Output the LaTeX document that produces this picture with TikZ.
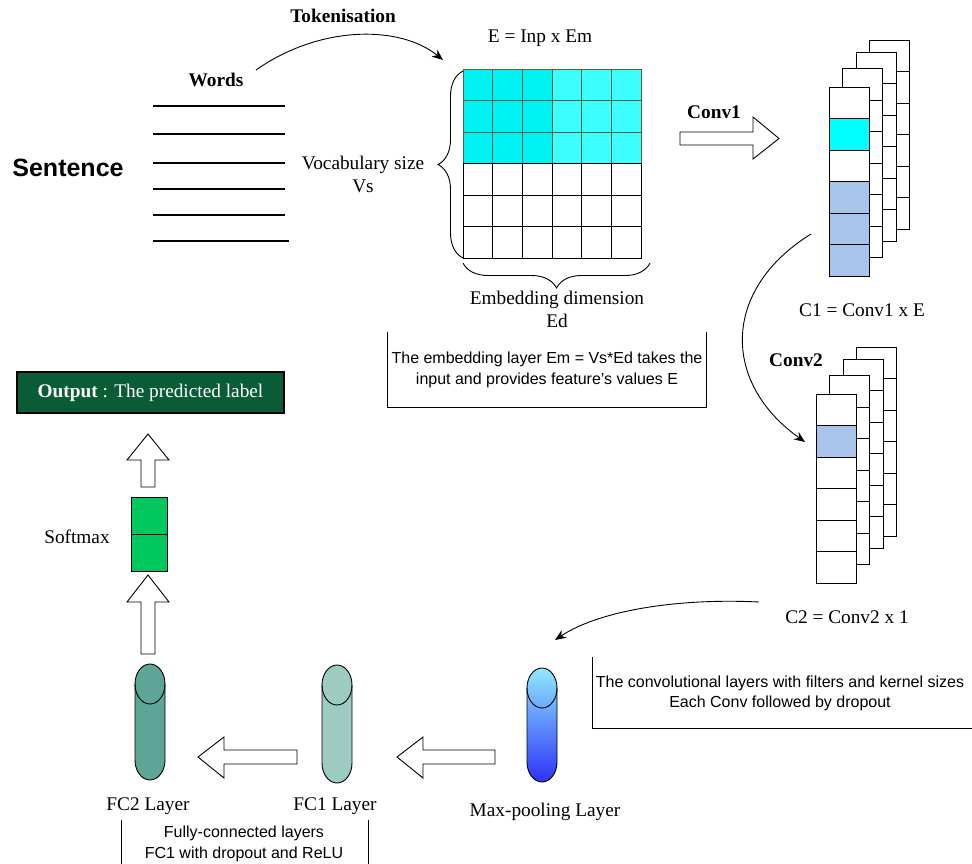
\documentclass[tikz,border=0pt]{standalone}
\usepackage{fontspec}
\setmainfont{Liberation Serif}
\setsansfont{Liberation Sans}
\usetikzlibrary{decorations.pathreplacing,arrows.meta}
\definecolor{cyanA}{RGB}{0,242,242}
\definecolor{cyanB}{RGB}{60,255,255}
\definecolor{cyanline}{RGB}{80,100,50}
\definecolor{cyanC}{RGB}{0,255,255}
\definecolor{lblue}{RGB}{169,196,235}
\definecolor{sgreen}{RGB}{0,200,95}
\definecolor{dgreen}{RGB}{10,92,55}
\definecolor{fctwo}{RGB}{94,164,151}
\definecolor{fcone}{RGB}{157,203,194}
\definecolor{mptop}{RGB}{143,233,255}
\definecolor{mpbot}{RGB}{45,50,250}
\newcommand{\mystack}[3]{%
  \foreach \dx/\dy in {40.5/-47, 27/-35, 13.5/-18.5}{%
    \foreach \k in {0,...,5}{%
      \draw[cell, fill=white] (#1+\dx, #2+\dy+\k*31.5) rectangle ++(40,31.5);
    }%
  }%
  \foreach \c [count=\k from 0] in {#3}{%
    \draw[cell, fill=\c] (#1, #2+\k*31.5) rectangle ++(40,31.5);
  }%
}
\newcommand{\mycyl}[4]{%
  \path[#4, draw=black, line width=0.9pt] (#1,#2+20) arc[start angle=180,end angle=360,x radius=15,y radius=20] -- (#1+30,#3-20) arc[start angle=0,end angle=180,x radius=15,y radius=20] -- cycle;
  \draw[line width=0.9pt] (#1,#2+20) arc[start angle=180,end angle=0,x radius=15,y radius=20];
}
\begin{document}
\begin{tikzpicture}[x=1pt,y=-1pt,
  serif/.style={font=\fontsize{19.3}{23}\selectfont, inner sep=0pt, align=center},
  bserif/.style={serif, font=\fontsize{19.3}{23}\selectfont\bfseries},
  sans/.style={font=\sffamily\fontsize{16}{20.5}\selectfont, inner sep=0pt, align=center},
  hollow/.style={draw=black, fill=white, line width=0.9pt, line join=miter},
  cell/.style={draw=black, line width=0.9pt},
  conn/.style={-{Stealth[length=11pt,width=9pt]}, line width=0.9pt},
  bracket/.style={draw=black, line width=0.9pt},
  wline/.style={line width=2pt},
  bracestyle/.style={decorate, decoration={brace, amplitude=25pt}, line width=0.9pt},
]
\useasboundingbox (0,0) rectangle (972,863);

% ---- sentence / words ----
\node[bserif] (tok) at (343,16) {Tokenisation};
\node[bserif] (words) at (216,80) {Words};
\node[font=\sffamily\bfseries\fontsize{25}{30}\selectfont, inner sep=0pt] (sent) at (68,168) {Sentence};
\foreach \y/\r in {106/285,134/285,163/285,189/285,215/285,241/289}
  \draw[wline] (153,\y) -- (\r,\y);

% ---- embedding grid ----
\foreach \j in {0,1,2}{
  \foreach \i in {0,1,2}
    \draw[cell, draw=cyanline, fill=cyanA] (463+\i*29.67, 69+\j*31.5) rectangle ++(29.67,31.5);
  \foreach \i in {3,4,5}
    \draw[cell, draw=cyanline, fill=cyanB] (463+\i*29.67, 69+\j*31.5) rectangle ++(29.67,31.5);
}
\foreach \j in {3,4,5}
  \foreach \i in {0,...,5}
    \draw[cell] (463+\i*29.67, 69+\j*31.5) rectangle ++(29.67,31.5);
\node[inner sep=0pt, outer sep=0pt, minimum width=178, minimum height=189] (grid) at (552,163.5) {};
\node[serif] (eq) at (540,38) {E = Inp x Em};

\draw[bracestyle] (463,258) -- (463,71);
\draw[bracestyle] (650,263) -- (463,263);
\node[serif] (vocab) at (363,174.5) {Vocabulary size\\Vs};
\node[serif] (embdim) at (557,309) {Embedding dimension\\Ed};

\draw[bracket] (387,332) -- (387,407) -- (706,407) -- (706,332);
\node[sans] (embtxt) at (547,370) {The embedding layer Em = Vs*Ed takes the\\input and provides feature{\char39}s values E};

\coordinate (tokS) at (256,70);
\coordinate (tokE) at (443,60);
\draw[conn] (tokS) .. controls (320,25) and (400,25) .. (tokE);

% ---- conv1 ----
\node[bserif] (conv1) at (714,112) {Conv1};
\draw[hollow] (680,132) -- (753,132) -- (753,117) -- (779,138.5) -- (753,159) -- (753,145) -- (680,145) -- cycle;
\mystack{829}{87}{white,cyanC,white,lblue,lblue,lblue}
\node[serif] (c1lab) at (862,310) {C1 = Conv1 x E};

\coordinate (a1) at (811,234);
\coordinate (a2) at (805,442);
\draw[conn] (a1) .. controls (721,290) and (722,383) .. (a2);

% ---- conv2 ----
\node[bserif] (conv2) at (796,360) {Conv2};
\mystack{816}{394}{white,lblue,white,white,white,white}
\node[serif] (c2lab) at (847,617) {C2 = Conv2 x 1};

\coordinate (b1) at (759,602);
\coordinate (b2) at (555,640);
\draw[conn] (b1) .. controls (680,598) and (600,610) .. (b2);

\draw[bracket] (592,657) -- (592,728) -- (980,728);
\node[sans] (convtxt) at (780,693.5) {The convolutional layers with filters and kernel sizes\\Each Conv followed by dropout};

% ---- pooling and FC ----
\mycyl{527}{668}{782}{top color=mptop, bottom color=mpbot}
\node[serif] (mplab) at (545,812) {Max-pooling Layer};
\mycyl{322}{665}{783}{fill=fcone}
\node[serif] (fc1lab) at (335,806) {FC1 Layer};
\mycyl{135}{664}{780}{fill=fctwo}
\node[serif] (fc2lab) at (148,806) {FC2 Layer};

\draw[hollow] (397,757) -- (423,737) -- (423,750) -- (495,750) -- (495,764) -- (423,764) -- (423,778) -- cycle;
\draw[hollow] (198,757) -- (224,737) -- (224,750) -- (297,750) -- (297,764) -- (224,764) -- (224,778) -- cycle;

\draw[bracket] (121,820) -- (121,870);
\draw[bracket] (368,820) -- (368,870);
\node[sans] (fctxt) at (244,844) {Fully-connected layers\\FC1 with dropout and ReLU};

% ---- softmax and output ----
\draw[hollow] (148,575) -- (169,602) -- (155,602) -- (155,654) -- (141,654) -- (141,602) -- (127,602) -- cycle;
\draw[cell, fill=sgreen] (131,497) rectangle (167,534);
\draw[cell, fill=sgreen] (131,534) rectangle (167,571);
\node[serif] (smlab) at (77,537) {Softmax};
\draw[hollow] (148,434) -- (169,460) -- (155,460) -- (155,487) -- (141,487) -- (141,460) -- (127,460) -- cycle;
\node[serif, draw=black, fill=dgreen, line width=1.5pt, minimum width=267, minimum height=41, text=white] (out) at (150.5,392.5) {\textbf{Output} : The predicted label};
\end{tikzpicture}
\end{document}
